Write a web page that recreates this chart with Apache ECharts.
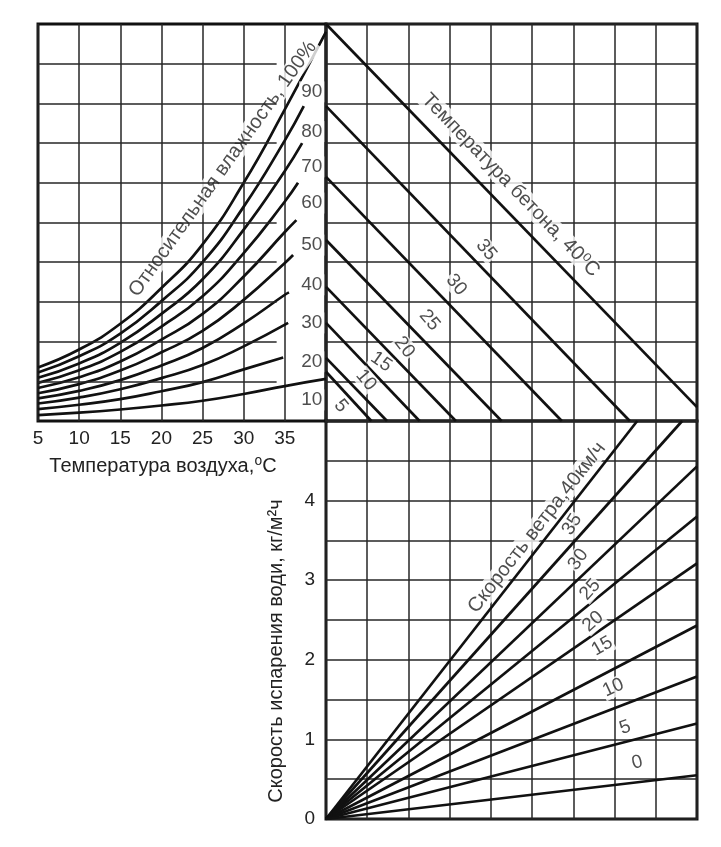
<!DOCTYPE html>
<html><head><meta charset="utf-8">
<script src="https://cdn.jsdelivr.net/npm/echarts@6/dist/echarts.min.js"></script>
<style>html,body{margin:0;padding:0;background:#fff}#c{width:721px;height:847px}</style>
</head><body><div id="c"></div>
<script>
// ---- data ----
const airTemp = [5, 10, 15, 20, 25, 30, 35];
const humidityLevels = [100, 90, 80, 70, 60, 50, 40, 30, 20, 10];
const rh100 = [1.35, 1.8, 2.45, 3.35, 4.45, 6.0, 7.85];
const rh90 = [1.22, 1.63, 2.2, 3.02, 4.0, 5.4, 7.07];
const rh80 = [1.09, 1.45, 1.97, 2.7, 3.57, 4.82, 6.3];
const rh70 = [0.96, 1.28, 1.74, 2.38, 3.14, 4.23, 5.53];
const rh60 = [0.83, 1.1, 1.5, 2.05, 2.7, 3.64, 4.76];
const rh50 = [0.7, 0.93, 1.27, 1.73, 2.27, 3.05, 3.98];
const rh40 = [0.57, 0.76, 1.03, 1.4, 1.84, 2.46, 3.18];
const rh30 = [0.44, 0.59, 0.8, 1.08, 1.41, 1.88];
const rh20 = [0.3, 0.41, 0.55, 0.75, 0.98, 1.3];
const rh10 = [0.15, 0.21, 0.29, 0.39, 0.51, 0.68, 0.88];
const rhEndTemp = [40, 37.3, 37.1, 36.6, 36.4, 36.0, 35.5, 35.4, 34.8, 40];
const rhEndValue = [9.8, 7.93, 7.0, 6.0, 5.06, 4.18, 3.24, 2.47, 1.6, 1.06];

const concreteTemps = [40, 35, 30, 25, 20, 15, 10, 5];
const concreteStartY = [10, 7.93, 6.15, 4.56, 3.38, 2.47, 1.59, 1.24];
const concreteEndX = [9, 7.37, 5.72, 4.26, 3.15, 2.27, 1.48, 1.1];
const concreteEndY = [0.35, 0, 0, 0, 0, 0, 0, 0];

const windSpeeds = [40, 35, 30, 25, 20, 15, 10, 5, 0];
const windEndX = [7.55, 8.64, 9, 9, 9, 9, 9, 9, 9];
const windEndY = [5, 5, 4.43, 3.80, 3.21, 2.43, 1.79, 1.20, 0.55];

const evapTicks = [0, 1, 2, 3, 4];
const pressureRows = [1, 2, 3, 4, 5, 6, 7, 8, 9];

// ---- label placement (positions/styles kept separate from data) ----
const rhLabelX = 38.27;
const rhLabelY = [8.29, 7.29, 6.4, 5.49, 4.43, 3.43, 2.47, 1.49, 0.53];
const rowLineEnd = 34.0;
const concLabelXY = [[3.89, 4.31], [3.16, 3.43], [2.51, 2.54], [1.90, 1.86], [1.34, 1.49], [0.97, 1.03], [0.36, 0.38]];
const concLabelRot = [-50, -50, -50, -52, -35, -50, -50];
const windLabelXY = [[5.97, 3.70], [6.12, 3.26], [6.41, 2.88], [6.48, 2.48], [6.70, 2.17], [6.97, 1.65], [7.26, 1.15], [7.55, 0.71]];
const windLabelRot = [58, 55, 48, 42, 30, 25, 20, 15];

const FONT = '"Liberation Sans", Arial, "DejaVu Sans", sans-serif';
const TXT = '#222';
const NUM_SIZE = 19;
const TITLE_SIZE = 20;
const GRID_STYLE = {color: '#262626', width: 1.5};
const GRIDLINE = {show: true, lineStyle: GRID_STYLE};
const CURVE = {color: '#111', width: 2.7};

const rhArrays = [rh100, rh90, rh80, rh70, rh60, rh50, rh40, rh30, rh20, rh10];

const series = [];
// horizontal rows of the humidity panel stop short of the label column
series.push({type: 'line', xAxisIndex: 0, yAxisIndex: 0, data: [], silent: true, z: 1,
  markLine: {silent: true, symbol: 'none', animation: false, label: {show: false},
    lineStyle: Object.assign({type: 'solid'}, GRID_STYLE),
    data: pressureRows.map(r => [{coord: [airTemp[0], r]}, {coord: [rowLineEnd, r]}])}});

rhArrays.forEach((arr, i) => {
  const pts = [];
  arr.forEach((v, j) => { if (airTemp[j] < rhEndTemp[i]) pts.push([airTemp[j], v]); });
  pts.push([rhEndTemp[i], rhEndValue[i]]);
  series.push({type: 'line', name: 'RH ' + humidityLevels[i], xAxisIndex: 0, yAxisIndex: 0,
    data: pts, smooth: 0.5, symbol: 'none', lineStyle: CURVE, silent: true, z: 3});
});
concreteTemps.forEach((t, i) => {
  series.push({type: 'line', name: 'Tc ' + t, xAxisIndex: 1, yAxisIndex: 1,
    data: [[0, concreteStartY[i]], [concreteEndX[i], concreteEndY[i]]], symbol: 'none', lineStyle: CURVE, silent: true, z: 3});
});
windSpeeds.forEach((w, i) => {
  series.push({type: 'line', name: 'V ' + w, xAxisIndex: 2, yAxisIndex: 2,
    data: [[0, 0], [windEndX[i], windEndY[i]]], symbol: 'none', lineStyle: CURVE, silent: true, z: 3});
});

function labelSeries(xi, items) {
  return {type: 'scatter', xAxisIndex: xi, yAxisIndex: xi, symbolSize: 1, silent: true, z: 4,
    itemStyle: {color: 'rgba(0,0,0,0)'},
    label: {show: true, position: 'inside', fontFamily: FONT, fontSize: NUM_SIZE, color: TXT,
      formatter: p => p.data.text},
    data: items};
}

// humidity curve labels
series.push(labelSeries(0, humidityLevels.slice(1).map((h, i) => ({
  value: [rhLabelX, rhLabelY[i]], text: String(h),
  label: {backgroundColor: '#fff', padding: [1, 2]}
})).concat([{
  value: [27.45, 6.35], text: 'Относительная влажность, 100%',
  label: {rotate: 54.5, fontSize: TITLE_SIZE, backgroundColor: '#fff', padding: [0, 2]}
}])));
// concrete temperature labels
series.push(labelSeries(1, concreteTemps.slice(1).map((t, i) => ({
  value: concLabelXY[i], text: String(t),
  label: {rotate: concLabelRot[i], backgroundColor: '#fff', padding: [0, 1]}
})).concat([{
  value: [4.48, 5.94], text: 'Температура бетона, 40⁰C',
  label: {rotate: -46, fontSize: TITLE_SIZE, backgroundColor: '#fff', padding: [0, 2]}
}])));
// wind speed labels
series.push(labelSeries(2, windSpeeds.slice(1).map((w, i) => ({
  value: windLabelXY[i], text: String(w),
  label: {rotate: windLabelRot[i], backgroundColor: '#fff', padding: [0, 1]}
})).concat([{
  value: [5.12, 3.66], text: 'Скорость ветра,40км/ч',
  label: {rotate: 52, fontSize: TITLE_SIZE, backgroundColor: '#fff', padding: [0, 2]}
}])));

const gridBase = {show: true, borderColor: '#111', borderWidth: 3, backgroundColor: 'transparent', containLabel: false};
const hiddenAxis = {axisLine: {show: false}, axisTick: {show: false}, axisLabel: {show: false}, splitLine: GRIDLINE};

const option = {
  animation: false,
  backgroundColor: '#fff',
  grid: [
    Object.assign({left: 38, top: 24, width: 288, height: 397}, gridBase),
    Object.assign({left: 326, top: 24, width: 371, height: 397}, gridBase),
    Object.assign({left: 326, top: 421, width: 371, height: 398}, gridBase)
  ],
  xAxis: [
    {gridIndex: 0, type: 'value', min: 5, max: 40, interval: 5, axisLine: {show: false}, axisTick: {show: false},
      splitLine: GRIDLINE,
      axisLabel: {show: true, margin: 8, fontSize: NUM_SIZE, color: TXT, fontFamily: FONT,
        formatter: v => (airTemp.indexOf(v) >= 0 ? String(v) : '')}},
    Object.assign({gridIndex: 1, type: 'value', min: 0, max: 9, interval: 1}, hiddenAxis),
    Object.assign({gridIndex: 2, type: 'value', min: 0, max: 9, interval: 1}, hiddenAxis)
  ],
  yAxis: [
    {gridIndex: 0, type: 'value', min: 0, max: 10, interval: 1, axisLine: {show: false}, axisTick: {show: false},
      axisLabel: {show: false}, splitLine: {show: false}},
    Object.assign({gridIndex: 1, type: 'value', min: 0, max: 10, interval: 1}, hiddenAxis),
    {gridIndex: 2, type: 'value', min: 0, max: 5, interval: 0.5, axisLine: {show: false}, axisTick: {show: false},
      splitLine: GRIDLINE,
      axisLabel: {show: true, margin: 11, fontSize: NUM_SIZE, color: TXT, fontFamily: FONT,
        formatter: v => (evapTicks.indexOf(v) >= 0 ? String(v) : '')}}
  ],
  graphic: [
    {type: 'text', x: 163, y: 466, z: 10,
      style: {text: 'Температура воздуха,⁰C', fill: TXT, font: TITLE_SIZE + 'px ' + FONT, align: 'center', verticalAlign: 'middle'}},
    {type: 'text', x: 276, y: 651, rotation: Math.PI / 2, z: 10,
      style: {text: 'Скорость испарения води, кг/м²ч', fill: TXT, font: TITLE_SIZE + 'px ' + FONT, align: 'center', verticalAlign: 'middle'}}
  ],
  series: series
};

const chart = echarts.init(document.getElementById('c'), null, {renderer: 'canvas'});
chart.setOption(option);
</script>
</body></html>
